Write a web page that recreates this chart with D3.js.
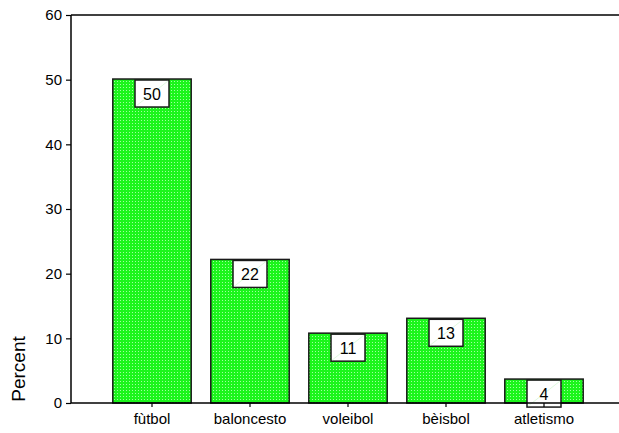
<!DOCTYPE html>
<html>
<head>
<meta charset="utf-8">
<script src="https://cdn.jsdelivr.net/npm/d3@7"></script>
<style>
body { margin: 0; background: #fff; }
text { font-family: "Liberation Sans", Arial, sans-serif; fill: #000; }
</style>
</head>
<body>
<svg width="619" height="433"></svg>
<script>
var sports = ['fùtbol', 'baloncesto', 'voleibol', 'bèisbol', 'atletismo'];
var percents = [50.1, 22.2, 10.8, 13.1, 3.7];
var yTicks = [0, 10, 20, 30, 40, 50, 60];

var svg = d3.select('svg');

// fine green crosshatch fill: light dots over a solid green
var defs = svg.append('defs');
var pat = defs.append('pattern')
	.attr('id', 'hatch')
	.attr('width', 3).attr('height', 3)
	.attr('patternUnits', 'userSpaceOnUse');
pat.append('rect').attr('width', 1).attr('height', 1).attr('fill', '#a0ffa0')
	.attr('shape-rendering', 'crispEdges');

var x = d3.scaleBand()
	.domain(sports)
	.range([103, 593])
	.paddingInner(0.2)
	.paddingOuter(0.1);

var y = d3.scaleLinear()
	.domain([0, 60])
	.range([403, 15]);

// top frame line
svg.append('line')
	.attr('x1', 71).attr('x2', 619)
	.attr('y1', y(60)).attr('y2', y(60))
	.attr('stroke', '#000').attr('stroke-width', 1.5);

// bars
var bars = svg.selectAll('.bar')
	.data(sports)
	.enter()
	.append('g')
		.attr('class', 'bar');
bars.append('rect')
	.attr('x', function(d){ return x(d); })
	.attr('y', function(d, i){ return y(percents[i]); })
	.attr('width', x.bandwidth())
	.attr('height', function(d, i){ return y(0) - y(percents[i]); })
	.attr('fill', '#1cf51c');
bars.append('rect')
	.attr('x', function(d){ return x(d); })
	.attr('y', function(d, i){ return y(percents[i]); })
	.attr('width', x.bandwidth())
	.attr('height', function(d, i){ return y(0) - y(percents[i]); })
	.attr('fill', 'url(#hatch)')
	.attr('stroke', '#1a1a1a')
	.attr('stroke-width', 1.5);

// value labels
var lab = svg.selectAll('.lab')
	.data(sports)
	.enter()
	.append('g')
		.attr('class', 'lab')
		.attr('transform', function(d, i){
			return 'translate(' + (x(d) + x.bandwidth() / 2) + ',' + (y(percents[i]) + 1) + ')';
		});
lab.append('rect')
	.attr('x', -17).attr('y', 0)
	.attr('width', 34).attr('height', 27)
	.attr('fill', '#fff')
	.attr('stroke', '#1a1a1a')
	.attr('stroke-width', 1.5);
lab.append('line')
	.attr('x1', -16).attr('y1', 26).attr('x2', 16).attr('y2', 1)
	.attr('stroke', '#c8f5c8').attr('stroke-width', 0.6);
lab.append('text')
	.attr('x', 0).attr('y', 19.5)
	.attr('text-anchor', 'middle')
	.style('font-size', '16px')
	.text(function(d, i){ return Math.round(percents[i]); });

// y axis
var yAxis = svg.append('g')
	.attr('transform', 'translate(71,0)')
	.call(d3.axisLeft(y).tickValues(yTicks).tickSize(5).tickPadding(4));
yAxis.select('.domain').attr('stroke', '#000').attr('stroke-width', 1.5)
	.attr('d', 'M0,' + y(60) + 'V' + y(0));
yAxis.selectAll('.tick line').attr('stroke', '#000').attr('stroke-width', 1.2);
yAxis.selectAll('.tick text')
	.style('font-size', '15px')
	.style('font-family', '"Liberation Sans", Arial, sans-serif')
	.attr('fill', '#000');

// x axis
var xAxis = svg.append('g')
	.attr('transform', 'translate(0,' + y(0) + ')')
	.call(d3.axisBottom(x).tickSize(4).tickPadding(6));
xAxis.select('.domain').attr('stroke', '#000').attr('stroke-width', 1.5)
	.attr('d', 'M71,0H619');
xAxis.selectAll('.tick line').attr('stroke', '#000').attr('stroke-width', 1.2);
xAxis.selectAll('.tick text')
	.style('font-size', '15px')
	.style('font-family', '"Liberation Sans", Arial, sans-serif')
	.attr('fill', '#000');

// axis title
svg.append('text')
	.attr('transform', 'translate(25,369) rotate(-90)')
	.attr('text-anchor', 'middle')
	.style('font-size', '19px')
	.text('Percent');
</script>
</body>
</html>
